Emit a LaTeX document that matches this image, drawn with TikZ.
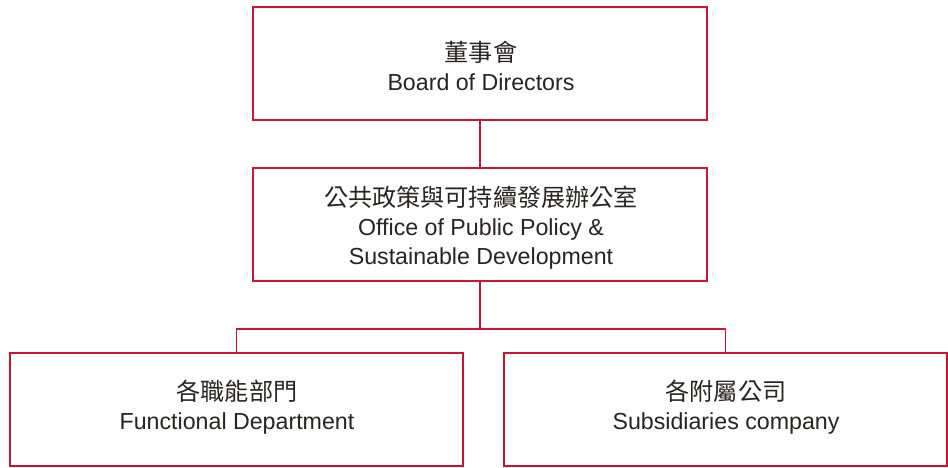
\documentclass[tikz,border=0pt]{standalone}
\usepackage{fontspec}
\setmainfont{Liberation Sans}
\newfontfamily\cjk[Scale=1.04]{Noto Sans CJK TC}
\definecolor{boxred}{RGB}{200,22,48}
\definecolor{txt}{RGB}{40,36,34}
\begin{document}
\begin{tikzpicture}[x=1pt,y=-1pt,
  box/.style={draw=boxred, line width=1.6pt, fill=white, rectangle, align=center,
    text=txt, minimum height=113pt, inner sep=0pt,
    font=\fontsize{23.2}{29}\selectfont},
  label/.style={box, draw=none, fill=none, minimum height=0pt, anchor=base},
  link/.style={draw=boxred, line width=1.6pt}]
\useasboundingbox (0,0) rectangle (948,467);
\node[box, minimum width=454pt] (board) at (480,63.5) {};
\node[box, minimum width=454pt] (office) at (480,224.5) {};
\node[box, minimum width=453pt] (func) at (236.5,409.5) {};
\node[box, minimum width=443pt] (subs) at (725.5,409.5) {};
\node[label] (boardtxt) at (481,90) {{\cjk 董事會}\\Board of Directors};
\node[label] (officetxt) at (481,264) {{\cjk 公共政策與可持續發展辦公室}\\Office of Public Policy \&\\ Sustainable Development};
\node[label] (functxt) at (237,429) {{\cjk 各職能部門}\\Functional Department};
\node[label] (substxt) at (726,429) {{\cjk 各附屬公司}\\Subsidiaries company};
\coordinate (j) at (480,329);
\draw[link] (board.south) -- (office.north);
\draw[link] (office.south) -- (j);
\draw[link] (j) -| (func.north);
\draw[link] (j) -| (subs.north);
\end{tikzpicture}
\end{document}
